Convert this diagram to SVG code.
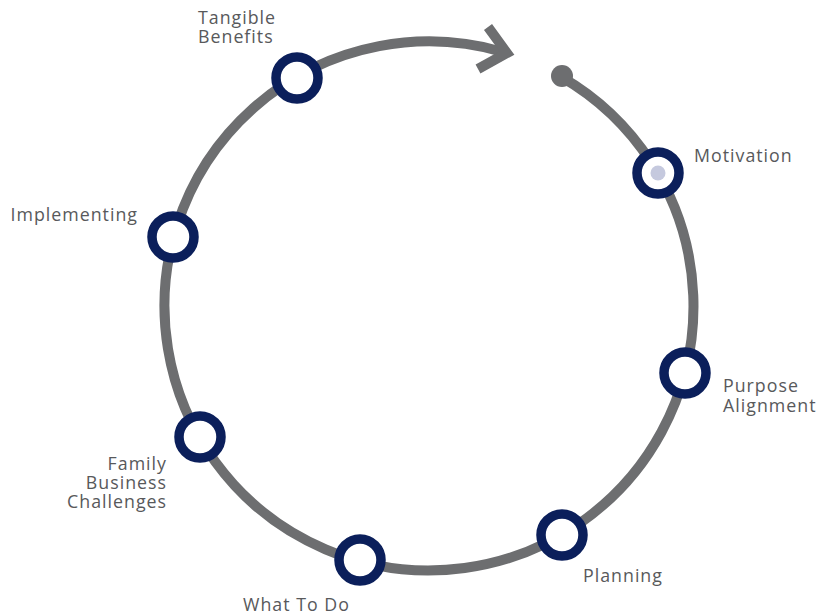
<svg xmlns="http://www.w3.org/2000/svg" width="820" height="615" viewBox="0 0 820 615">
<style>
.ring{fill:none;stroke:#6d6e70;stroke-width:10}
.node{fill:#ffffff;stroke:#0b1f5b;stroke-width:9.5}
.lbl{font-family:"Open Sans","Noto Sans",sans-serif;font-size:17.8px;letter-spacing:1px;fill:#58595b}
</style>
<rect width="820" height="615" fill="#ffffff"/>
<g id="connectors">
<path class="ring" d="M561.3,76.9 A264.5,264.5 0 1 1 502.0,51.7"/>
<polyline class="ring" points="488,27 507,53 478,69" stroke-linejoin="miter"/>
<circle cx="562" cy="76" r="11" fill="#6d6e70"/>
</g>
<g id="motivation">
<circle class="node" cx="658" cy="173" r="21"/>
<circle cx="658" cy="173" r="7.5" fill="#c5c9de"/>
<text class="lbl" x="694" y="162">Motivation</text>
</g>
<g id="purpose-alignment">
<circle class="node" cx="685" cy="373" r="21"/>
<text class="lbl" x="723" y="392">Purpose<tspan x="723" y="412">Alignment</tspan></text>
</g>
<g id="planning">
<circle class="node" cx="562" cy="535" r="21"/>
<text class="lbl" x="583" y="582">Planning</text>
</g>
<g id="what-to-do">
<circle class="node" cx="360" cy="560" r="21"/>
<text class="lbl" x="243" y="611">What To Do</text>
</g>
<g id="family-business-challenges">
<circle class="node" cx="200" cy="437" r="21"/>
<text class="lbl" x="167" y="470" text-anchor="end">Family<tspan x="167" y="489">Business</tspan><tspan x="167" y="508">Challenges</tspan></text>
</g>
<g id="implementing">
<circle class="node" cx="173" cy="237" r="21"/>
<text class="lbl" x="138" y="221" text-anchor="end">Implementing</text>
</g>
<g id="tangible-benefits">
<circle class="node" cx="297" cy="78" r="21"/>
<text class="lbl" x="198" y="24">Tangible<tspan x="198" y="43">Benefits</tspan></text>
</g>
</svg>
